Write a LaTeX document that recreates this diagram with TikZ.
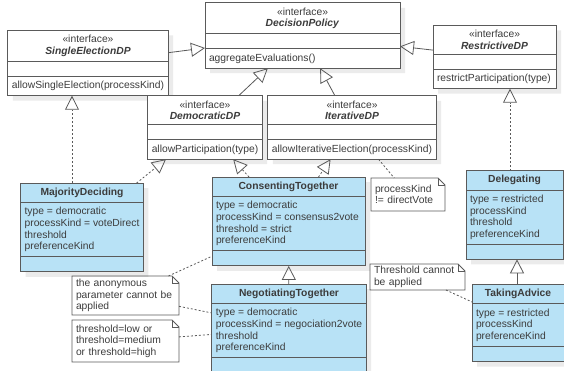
\documentclass[tikz,border=0pt]{standalone}
\usepackage{fontspec}
\setmainfont{Liberation Sans}
\usetikzlibrary{shapes.multipart, arrows.meta, shadows}

\definecolor{umlfill}{RGB}{184,226,246}
\definecolor{umlline}{RGB}{90,90,90}
\definecolor{umltext}{RGB}{60,60,60}

% header of an interface: stereotype over the name
\newcommand{\umlhead}[1]{\vbox{\halign{\hfil##\hfil\cr «interface»\cr \textbf{\textit{#1}}\cr}}}

\begin{document}
\begin{tikzpicture}[
        x=1pt, y=-1pt,
        every node/.style={font=\fontsize{10.3}{11.6}\selectfont, text=umltext},
        umlclass/.style={draw=umlline, line width=0.8pt, fill=white, rectangle split, rectangle split parts=3,
            rectangle split part align={center,left,left}, align=left,
            inner xsep=4pt, inner ysep=4.5pt, outer sep=0pt,
            drop shadow={shadow xshift=5pt, shadow yshift=-5pt, fill=black!8, opacity=1}},
        concrete/.style={umlclass, fill=umlfill},
        umlnote/.style={align=left, inner xsep=4pt, inner ysep=2pt, outer sep=0pt},
        notebox/.style={draw=umlline, line width=0.8pt},
        inherit/.style={draw=umlline, line width=0.8pt, -{Triangle[open, length=14pt, width=14pt]}},
        realize/.style={inherit, dash pattern=on 2pt off 2pt},
        attach/.style={draw=umlline, line width=0.8pt, dash pattern=on 2pt off 2pt}
    ]
        \useasboundingbox (0,0) rectangle (564,371);

        % Interfacce
        \node[umlclass, minimum width=195pt, minimum height=65pt] (dp) at (302.5,35.5)
            {\umlhead{DecisionPolicy}\nodepart{two}\nodepart{three}aggregateEvaluations()};
        \node[umlclass, minimum width=160pt, minimum height=58pt] (sed) at (88,63)
            {\umlhead{SingleElectionDP}\nodepart{two}\nodepart{three}allowSingleElection(processKind)};
        \node[umlclass, minimum width=123pt, minimum height=58pt] (rdp) at (494.5,57)
            {\umlhead{RestrictiveDP}\nodepart{two}\nodepart{three}restrictParticipation(type)};
        \node[umlclass, minimum width=114pt, minimum height=59pt] (ddp) at (205,127.5)
            {\umlhead{DemocraticDP}\nodepart{two}\nodepart{three}allowParticipation(type)};
        \node[umlclass, minimum width=168pt, minimum height=59pt] (idp) at (352,127.5)
            {\umlhead{IterativeDP}\nodepart{two}\nodepart{three}allowIterativeElection(processKind)};

        % Classi
        \node[concrete, minimum width=122pt, minimum height=81pt] (mdec) at (82,227.5)
            {\textbf{MajorityDeciding}\nodepart{two}type = democratic\\processKind = voteDirect\\threshold\\preferenceKind\nodepart{three}};
        \node[concrete, minimum width=153pt, minimum height=81pt] (ctog) at (288.5,221.5)
            {\textbf{ConsentingTogether}\nodepart{two}type = democratic\\processKind = consensus2vote\\threshold = strict\\preferenceKind\nodepart{three}};
        \node[concrete, minimum width=154pt, minimum height=81pt] (ntog) at (289,328.5)
            {\textbf{NegotiatingTogether}\nodepart{two}type = democratic\\processKind = negociation2vote\\threshold\\preferenceKind\nodepart{three}};
        \node[concrete, minimum width=97pt, minimum height=80pt] (dlg) at (514.5,215)
            {\textbf{Delegating}\nodepart{two}type = restricted\\processKind\\threshold\\preferenceKind\nodepart{three}};
        \node[concrete, minimum width=92pt, minimum height=70pt] (tadv) at (518,323)
            {\textbf{TakingAdvice}\nodepart{two}type = restricted\\processKind\\preferenceKind\nodepart{three}};

        % Note
        \node[umlnote, text width=66pt, minimum height=33pt] (nkind) at (408,194.5) {processKind\\!= directVote};
        \node[umlnote, text width=87pt, minimum height=26pt] (nthr) at (417.5,277) {Threshold cannot\\be applied};
        \node[umlnote, text width=99pt, minimum height=39pt] (nanon) at (125.5,295.5) {the anonymous\\parameter cannot be\\applied};
        \node[umlnote, text width=99pt, minimum height=42pt] (nlvl) at (125.5,341) {threshold=low or\\threshold=medium\\or threshold=high};
        \foreach \n in {nkind, nthr, nanon, nlvl} {
            \draw[notebox] (\n.south west) -- (\n.north west) -- ([xshift=-7pt]\n.north east)
                -- ([yshift=-7pt]\n.north east) -- (\n.south east) -- cycle;
            \draw[notebox] ([xshift=-7pt]\n.north east) |- ([yshift=-7pt]\n.north east);
        }

        % Generalizzazioni
        \draw[inherit] (sed) -- (dp);
        \draw[inherit] (rdp) -- (dp);
        \draw[inherit] (ddp) -- (dp);
        \draw[inherit] (idp) -- (dp);
        \draw[inherit] (ntog) -- (ctog);
        \draw[inherit] ([xshift=-1pt]tadv.north) -- ([xshift=-1pt]tadv.north |- dlg.south);

        % Realizzazioni
        \draw[realize] ([xshift=-10pt]mdec.north) -- ([xshift=-10pt]mdec.north |- sed.south);
        \draw[realize] (mdec) -- (ddp);
        \draw[realize] (ctog) -- (ddp);
        \draw[realize] (ctog) -- (idp);
        \draw[realize] ([xshift=-4.5pt]dlg.north) -- ([xshift=-4.5pt]dlg.north |- rdp.south);

        % Collegamenti alle note
        \draw[attach] (idp) -- (nkind);
        \draw[attach] (nthr) -- (tadv);
        \draw[attach] (nanon) -- (ctog);
        \draw[attach] (nanon) -- (ntog);
        \draw[attach] (nlvl) -- (ntog);
    \end{tikzpicture}
\end{document}
